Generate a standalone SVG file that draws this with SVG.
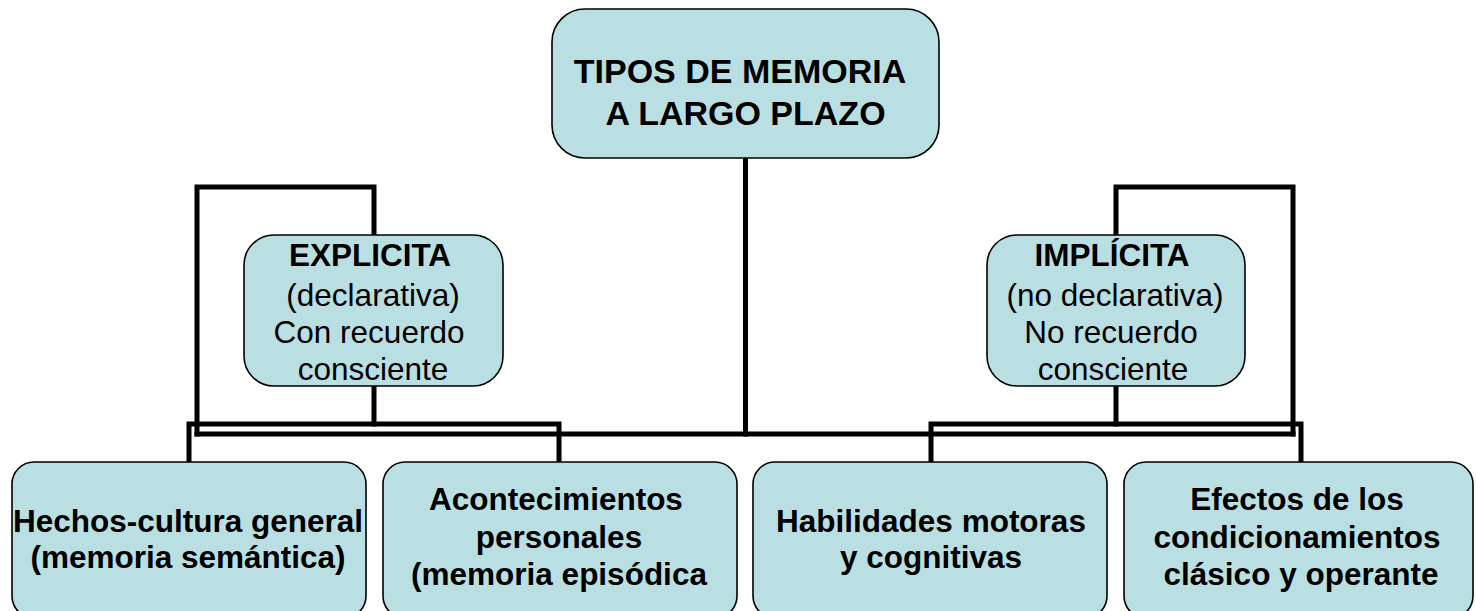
<svg xmlns="http://www.w3.org/2000/svg" width="1476" height="611" viewBox="0 0 1476 611">
<style>
.box{fill:#BADFE3;stroke:#000;stroke-width:1.6}
.conn{fill:none;stroke:#000;stroke-width:5;stroke-linejoin:miter;stroke-linecap:square}
text{font-family:"Liberation Sans",Arial,sans-serif;fill:#000;text-anchor:middle}
.b{font-weight:bold;font-size:31.5px}
.r{font-size:31.5px}
.t{font-weight:bold;font-size:34px}
</style>
<rect width="1476" height="611" fill="#fff"/>
<g id="connectors">
<line class="conn" x1="745.5" y1="158" x2="745.5" y2="434"/>
<line class="conn" x1="197" y1="434" x2="1293" y2="434"/>
<polyline class="conn" points="197,434 197,187 374,187 374,236"/>
<line class="conn" x1="374" y1="386" x2="374" y2="424"/>
<polyline class="conn" points="189,463 189,424 559,424 559,463"/>
<polyline class="conn" points="1293,434 1293,187 1116,187 1116,236"/>
<line class="conn" x1="1116" y1="386" x2="1116" y2="424"/>
<polyline class="conn" points="931,463 931,424 1301,424 1301,463"/>
</g>
<g id="node-root">
<rect class="box" x="552" y="9" width="387" height="149" rx="33" ry="33"/>
<text class="t" x="740" y="83">TIPOS DE MEMORIA</text>
<text class="t" x="745.5" y="125">A LARGO PLAZO</text>
</g>
<g id="node-explicita">
<rect class="box" x="244" y="235" width="259" height="151" rx="30" ry="30"/>
<text class="b" x="370" y="266">EXPLICITA</text>
<text class="r" x="373" y="306">(declarativa)</text>
<text class="r" x="369" y="343">Con recuerdo</text>
<text class="r" x="373" y="380">consciente</text>
</g>
<g id="node-implicita">
<rect class="box" x="987" y="235" width="258" height="151" rx="30" ry="30"/>
<text class="b" x="1112" y="266">IMPLÍCITA</text>
<text class="r" x="1115" y="306">(no declarativa)</text>
<text class="r" x="1111" y="343">No recuerdo</text>
<text class="r" x="1113" y="380">consciente</text>
</g>
<g id="node-semantica">
<rect class="box" x="12" y="462" width="354" height="156" rx="22" ry="22"/>
<text class="b" x="188" y="532">Hechos-cultura general</text>
<text class="b" x="188" y="568">(memoria semántica)</text>
</g>
<g id="node-episodica">
<rect class="box" x="383" y="462" width="354" height="156" rx="22" ry="22"/>
<text class="b" x="556" y="510">Acontecimientos</text>
<text class="b" x="559" y="548">personales</text>
<text class="b" x="559" y="585">(memoria episódica</text>
</g>
<g id="node-habilidades">
<rect class="box" x="753" y="462" width="354" height="156" rx="22" ry="22"/>
<text class="b" x="931" y="532">Habilidades motoras</text>
<text class="b" x="931" y="568">y cognitivas</text>
</g>
<g id="node-condicionamientos">
<rect class="box" x="1124" y="462" width="349" height="156" rx="22" ry="22"/>
<text class="b" x="1297" y="510">Efectos de los</text>
<text class="b" x="1297" y="548">condicionamientos</text>
<text class="b" x="1301" y="585">clásico y operante</text>
</g>
</svg>
